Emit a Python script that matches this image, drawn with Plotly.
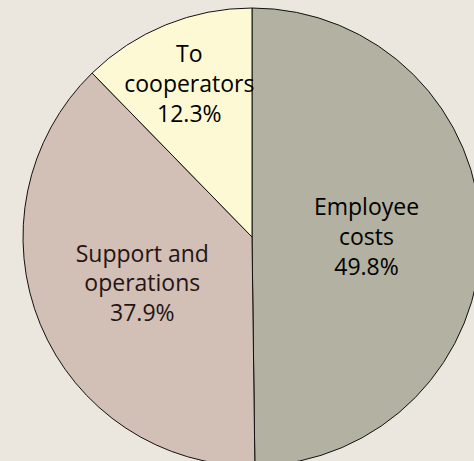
import plotly.graph_objects as go

labels = ["Employee costs", "Support and operations", "To cooperators"]
label_text = ["Employee<br>costs", "Support and<br>operations", "To<br>cooperators"]
values = [49.8, 37.9, 12.3]
colors = ["#b2b1a2", "#d2bfb5", "#fdf9d5"]
text_colors = ["#000000", "#241414", "#000000"]

W, H = 490, 472
cx, cy, r = 252, 237, 229

fig = go.Figure(go.Pie(
    labels=labels,
    values=values,
    text=label_text,
    texttemplate="%{text}<br>%{value:.1f}%",
    textposition="inside",
    insidetextorientation="horizontal",
    sort=False,
    direction="clockwise",
    rotation=0,
    marker=dict(colors=colors, line=dict(color="#111111", width=1)),
    textfont=dict(family="Open Sans", size=23, color=text_colors),
    hoverinfo="label+percent",
    showlegend=False,
    domain=dict(x=[(cx - r) / W, (cx + r) / W], y=[1 - (cy + r) / H, 1 - (cy - r) / H]),
))

fig.update_layout(
    width=W, height=H,
    margin=dict(l=0, r=0, t=0, b=0),
    paper_bgcolor="#ebe7de",
    plot_bgcolor="#ebe7de",
    uniformtext=dict(minsize=23, mode="show"),
)

fig.write_html("out.html", post_script="document.documentElement.style.overflow='hidden';document.body.style.overflow='hidden';document.body.style.margin='0';")
